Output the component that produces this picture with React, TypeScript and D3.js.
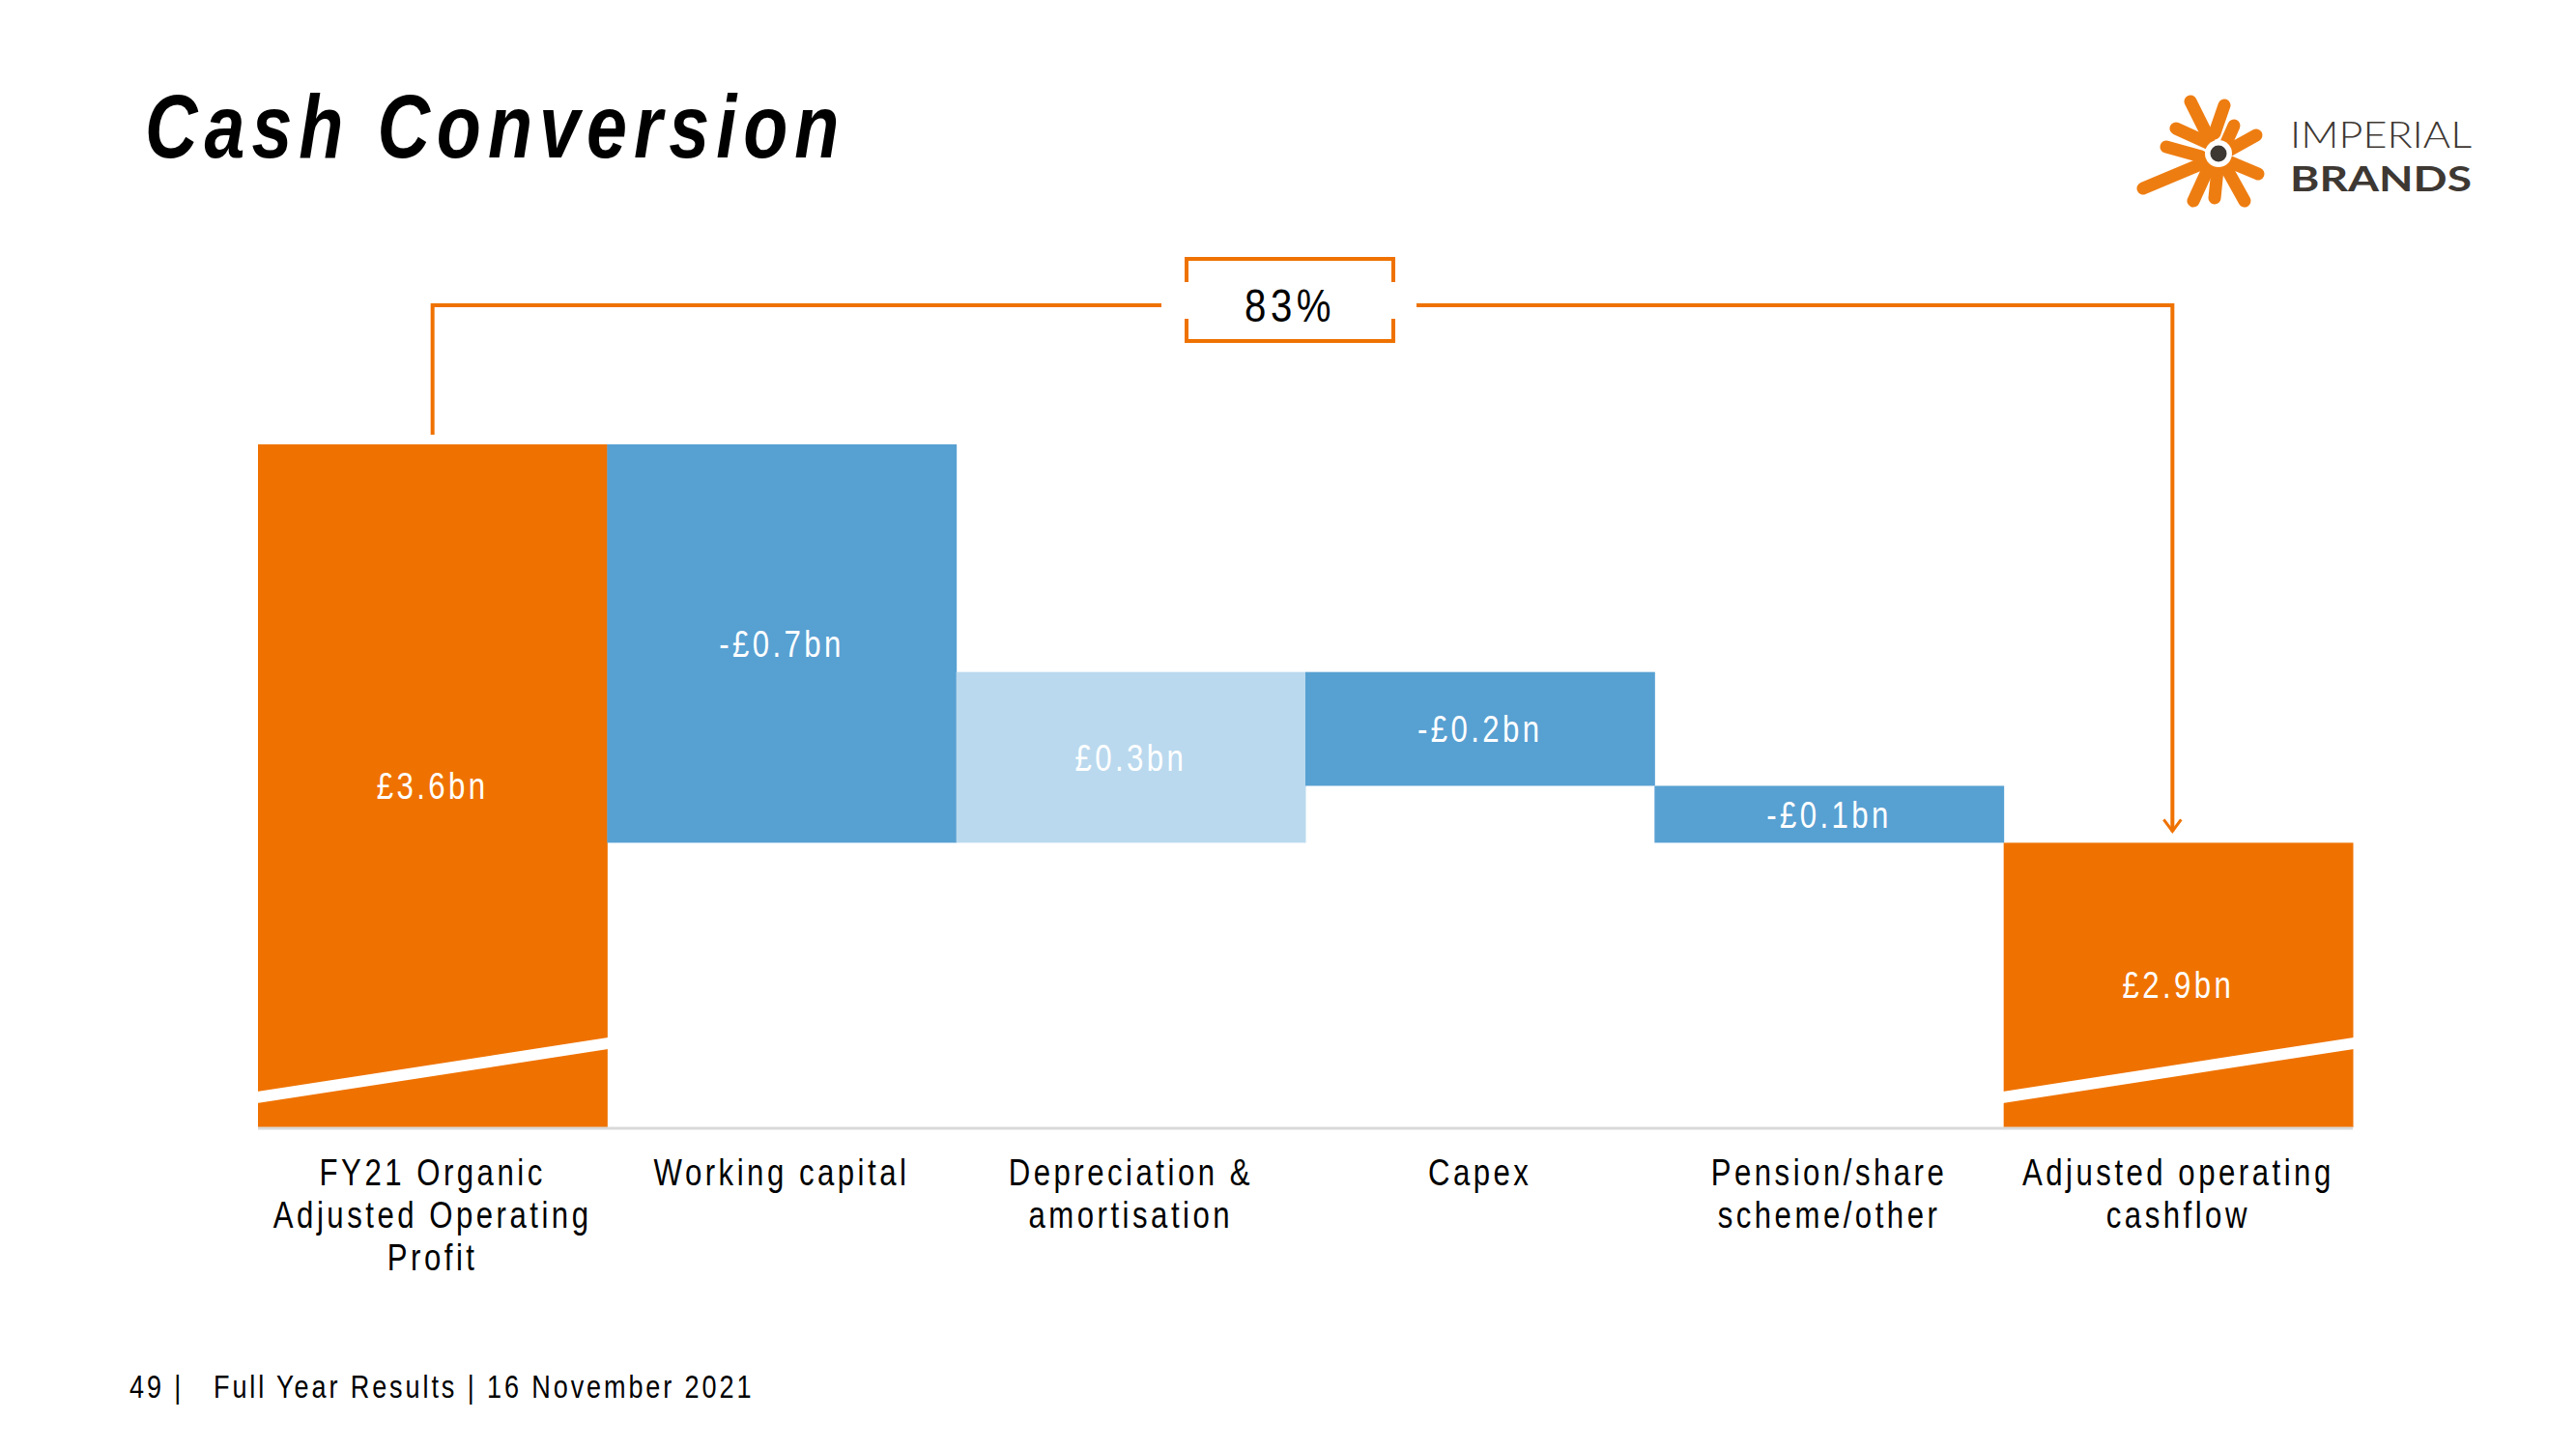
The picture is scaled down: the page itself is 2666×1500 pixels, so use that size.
import * as d3 from "d3";

const categoryLines = [
  ["FY21 Organic", "Adjusted Operating", "Profit"],
  ["Working capital"],
  ["Depreciation &", "amortisation"],
  ["Capex"],
  ["Pension/share", "scheme/other"],
  ["Adjusted operating", "cashflow"],
];
const values = [3.6, -0.7, 0.3, -0.2, -0.1, 2.9];
const kinds = ["total", "delta", "delta", "delta", "delta", "total"];
const conversionLabel = "83%";
const yDomain = [2.4, 3.6];

const W = 2666;
const H = 1500;
const ORANGE = "#EF7200";
const BLUE = "#57A0D2";
const LIGHT = "#BAD9EE";
const FONT = "'Liberation Sans', Arial, sans-serif";
const SQUEEZE = 0.82; // no narrow font installed, so condense horizontally

const fmt = (v: number) => (v < 0 ? "-" : "") + "£" + Math.abs(v).toFixed(1) + "bn";

// narrow text: scale horizontally around its anchor
function NText({ x, y, size, ls = 0, anchor = "start", weight, italic, fill = "#000", dy, children }: any) {
  return (
    <g transform={`translate(${x},${y}) scale(${SQUEEZE},1)`}>
      <text
        x={0}
        y={0}
        dy={dy}
        textAnchor={anchor}
        fontFamily={FONT}
        fontSize={size}
        fontWeight={weight}
        fontStyle={italic ? "italic" : undefined}
        letterSpacing={ls / SQUEEZE}
        fill={fill}
      >
        {children}
      </text>
    </g>
  );
}

// logo arms, as [x1, y1, x2, y2]
const logoArms = [
  [2267, 105, 2286, 143],
  [2302, 109, 2292, 138],
  [2252, 133, 2285, 148],
  [2242, 152, 2278, 162],
  [2218, 195, 2280, 169],
  [2270, 208, 2286, 173],
  [2292, 205, 2295, 175],
  [2323, 208, 2303, 172],
  [2337, 180, 2306, 167],
  [2335, 140, 2308, 155],
  [2312, 130, 2304, 148],
];

export default function App() {
  const x = d3
    .scaleBand<number>()
    .domain(values.map((_, i) => i))
    .range([267, 2435])
    .padding(0);
  const y = d3.scaleLinear().domain(yDomain).range([1167, 460]);
  const bw = x.bandwidth();

  // running totals for the waterfall
  let run = 0;
  const bars = values.map((v, i) => {
    let lo: number, hi: number;
    if (kinds[i] === "total") {
      lo = yDomain[0];
      hi = v;
      run = v;
    } else {
      const next = run + v;
      lo = Math.min(run, next);
      hi = Math.max(run, next);
      run = next;
    }
    const fill = kinds[i] === "total" ? ORANGE : v < 0 ? BLUE : LIGHT;
    return { i, v, lo, hi, fill };
  });

  const base = y(yDomain[0]);
  const firstX = x(0)! + bw / 2;
  const lastX = x(values.length - 1)! + bw / 2 - 6;
  const endTop = y(values[values.length - 1]);
  const lineY = 316;
  const boxL = 1228;
  const boxR = 1442;
  const boxT = 268;
  const boxB = 353;

  return (
    <svg
      width={W}
      height={H}
      style={{ position: "absolute", left: 0, top: 0, background: "#fff" }}
    >
      <rect width={W} height={H} fill="#fff" />

      <NText x={150} y={163} size={92} ls={7} weight="bold" italic>
        Cash Conversion
      </NText>

      {/* logo */}
      <g>
        {logoArms.map((a, k) => (
          <line
            key={k}
            x1={a[0]}
            y1={a[1]}
            x2={a[2]}
            y2={a[3]}
            stroke="#EE7D11"
            strokeWidth={13}
            strokeLinecap="round"
          />
        ))}
        <circle cx={2296} cy={159} r={14} fill="#fff" />
        <circle cx={2296} cy={159} r={8.5} fill="#3E3833" />
        <text
          x={2370}
          y={153}
          fontFamily="Lato, 'Open Sans', sans-serif"
          fontWeight={300}
          fontSize={37}
          textLength={188}
          lengthAdjust="spacingAndGlyphs"
          fill="#3E3833"
        >
          IMPERIAL
        </text>
        <text
          x={2370}
          y={198}
          fontFamily="Lato, 'Open Sans', sans-serif"
          fontWeight="bold"
          fontSize={37}
          textLength={188}
          lengthAdjust="spacingAndGlyphs"
          fill="#3E3833"
        >
          BRANDS
        </text>
      </g>

      {/* bars */}
      {bars.map((b) => (
        <rect
          key={b.i}
          x={x(b.i)!}
          y={y(b.hi)}
          width={bw + 0.5}
          height={y(b.lo) - y(b.hi)}
          fill={b.fill}
        />
      ))}

      {/* axis break stripes on the totals */}
      {bars
        .filter((b) => kinds[b.i] === "total")
        .map((b) => {
          const x0 = x(b.i)! - 1;
          const x1 = x(b.i)! + bw + 1;
          const yl = base - 31;
          const yr = base - 87;
          return (
            <polygon
              key={"brk" + b.i}
              points={`${x0},${yl - 6} ${x1},${yr - 6} ${x1},${yr + 6} ${x0},${yl + 6}`}
              fill="#fff"
            />
          );
        })}

      <line x1={x(0)!} x2={x(values.length - 1)! + bw} y1={base + 1} y2={base + 1} stroke="#D9D9D9" strokeWidth={3} />

      {/* bar labels */}
      {bars.map((b) => (
        <NText
          key={"lb" + b.i}
          x={x(b.i)! + bw / 2}
          y={(y(b.hi) + y(b.lo)) / 2}
          dy="0.36em"
          anchor="middle"
          size={38}
          ls={3.4}
          fill="#fff"
        >
          {fmt(b.v)}
        </NText>
      ))}

      {/* category labels */}
      {categoryLines.map((lines, i) =>
        lines.map((l, j) => (
          <NText
            key={"cat" + i + "-" + j}
            x={x(i)! + bw / 2}
            y={1227 + j * 44}
            anchor="middle"
            size={38}
            ls={3.5}
          >
            {l}
          </NText>
        ))
      )}

      {/* conversion bracket */}
      <g stroke={ORANGE} strokeWidth={4} fill="none">
        <polyline points={`${firstX},${y(values[0]) - 10} ${firstX},${lineY} ${boxL - 26},${lineY}`} />
        <polyline points={`${boxR + 24},${lineY} ${lastX},${lineY} ${lastX},${endTop - 12}`} />
        <polyline
          points={`${lastX - 9},${endTop - 24} ${lastX},${endTop - 12} ${lastX + 9},${endTop - 24}`}
          strokeWidth={3}
        />
        <polyline points={`${boxL},${boxT + 24} ${boxL},${boxT} ${boxR},${boxT} ${boxR},${boxT + 24}`} />
        <polyline points={`${boxL},${boxB - 23} ${boxL},${boxB} ${boxR},${boxB} ${boxR},${boxB - 23}`} />
      </g>
      <NText x={(boxL + boxR) / 2} y={333} anchor="middle" size={49} ls={4.5}>
        {conversionLabel}
      </NText>

      {/* footer */}
      <NText x={134} y={1447} size={33} ls={2.9}>
        49 |
      </NText>
      <NText x={221} y={1447} size={33} ls={2.9}>
        Full Year Results | 16 November 2021
      </NText>
    </svg>
  );
}
